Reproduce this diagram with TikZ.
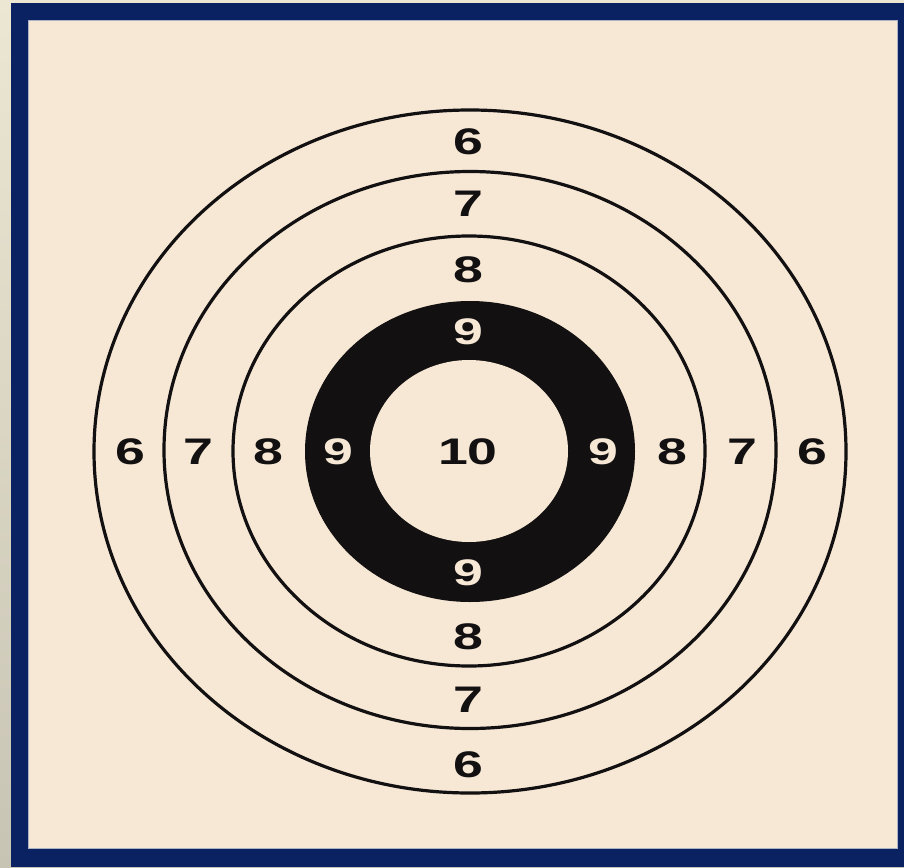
\documentclass[tikz,border=0pt]{standalone}
\usepackage{fontspec}
\newfontfamily\tfont[FakeStretch=1.45]{Liberation Sans}
\definecolor{navy}{RGB}{10,34,98}
\definecolor{cream}{RGB}{247,232,214}
\definecolor{outerbg}{RGB}{236,231,210}
\definecolor{outerbgb}{RGB}{200,196,180}
\definecolor{edge}{RGB}{170,178,196}
\definecolor{ink}{RGB}{18,16,16}
\tikzset{
  ringline/.style={draw=ink, line width=3.2pt},
  lbl/.style={font=\tfont\bfseries\fontsize{37}{37}\selectfont, text=ink, inner sep=0pt},
  wlbl/.style={lbl, text=cream}
}
\begin{document}
\begin{tikzpicture}[x=1pt,y=-1pt]
\useasboundingbox (0,0) rectangle (904,867);
\shade[top color=outerbg, bottom color=outerbgb] (0,0) rectangle (904,867);
\fill[navy] (11,3) rectangle (904,867);
\fill[edge] (28,20) rectangle (898,849);
\fill[cream] (29,21) rectangle (897,848);
% rings
\draw[ringline] (470,451.5) ellipse [x radius=376pt, y radius=341.5pt];
\draw[ringline] (470,450) ellipse [x radius=306pt, y radius=278.5pt];
\draw[ringline] (469,451) ellipse [x radius=236pt, y radius=215pt];
\fill[ink] (470,451.5) ellipse [x radius=165pt, y radius=150.5pt];
\fill[cream] (469,451) ellipse [x radius=99pt, y radius=91pt];
% labels
\node[lbl] (t6) at (468,142) {6};
\node[lbl] (t7) at (468,204) {7};
\node[lbl] (t8) at (468,270) {8};
\node[wlbl] (t9) at (468,332) {9};
\node[lbl] (c10) at (468,452) {10};
\node[wlbl] (b9) at (468,573) {9};
\node[lbl] (b8) at (468,637) {8};
\node[lbl] (b7) at (468,700) {7};
\node[lbl] (b6) at (468,765) {6};
\node[lbl] (l6) at (130,452) {6};
\node[lbl] (l7) at (198,452) {7};
\node[lbl] (l8) at (268,452) {8};
\node[wlbl] (l9) at (338,452) {9};
\node[wlbl] (r9) at (603,452) {9};
\node[lbl] (r8) at (672,452) {8};
\node[lbl] (r7) at (742,452) {7};
\node[lbl] (r6) at (812,452) {6};
\end{tikzpicture}
\end{document}
